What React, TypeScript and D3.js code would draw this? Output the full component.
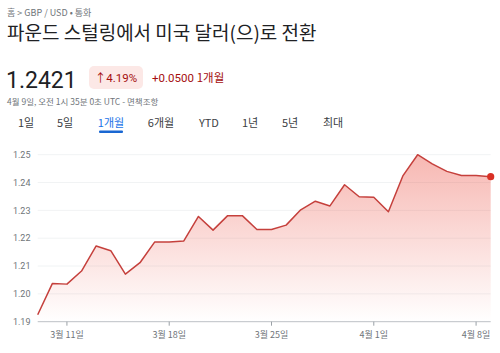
import React from "react";
import * as d3 from "d3";

const dates: string[] = [
  "2024-03-09", "2024-03-10", "2024-03-11", "2024-03-12", "2024-03-13", "2024-03-14",
  "2024-03-15", "2024-03-16", "2024-03-17", "2024-03-18", "2024-03-19", "2024-03-20",
  "2024-03-21", "2024-03-22", "2024-03-23", "2024-03-24", "2024-03-25", "2024-03-26",
  "2024-03-27", "2024-03-28", "2024-03-29", "2024-03-30", "2024-03-31", "2024-04-01",
  "2024-04-02", "2024-04-03", "2024-04-04", "2024-04-05", "2024-04-06", "2024-04-07",
  "2024-04-08", "2024-04-09",
];
const values: number[] = [
  1.1925, 1.2037, 1.2035, 1.2082, 1.2172, 1.2155, 1.2071, 1.2112, 1.2186, 1.2186,
  1.2190, 1.2278, 1.2229, 1.2281, 1.2281, 1.2231, 1.2231, 1.2247, 1.2302, 1.2333,
  1.2316, 1.2392, 1.2349, 1.2347, 1.2295, 1.2425, 1.2500, 1.2467, 1.2440, 1.2425,
  1.2425, 1.2421,
];
const yTicks: number[] = [1.19, 1.2, 1.21, 1.22, 1.23, 1.24, 1.25];
const xTickDates: string[] = ["2024-03-11", "2024-03-18", "2024-03-25", "2024-04-01", "2024-04-08"];
const xTickLabels: string[] = ["3월 11일", "3월 18일", "3월 25일", "4월 1일", "4월 8일"];
const tabs: string[] = ["1일", "5일", "1개월", "6개월", "YTD", "1년", "5년", "최대"];
const tabCenters: number[] = [26, 65, 111, 161, 209, 250, 290, 333];
const activeTab = 2;

const FONT = "Roboto, 'Noto Sans CJK KR', sans-serif";
const KFONT = "'Noto Sans CJK KR', 'Noto Sans', sans-serif";

export default function App() {
  const parse = d3.utcParse("%Y-%m-%d");
  const data = dates.map((d, i) => ({ date: parse(d) as Date, value: values[i] }));
  const x = d3
    .scaleUtc()
    .domain([parse(dates[0]) as Date, parse(dates[dates.length - 1]) as Date])
    .range([37.7, 490.7]);
  const y = d3.scaleLinear().domain([1.19, 1.25]).range([321.7, 154.7]);
  const line = d3
    .line<{ date: Date; value: number }>()
    .x((d) => x(d.date))
    .y((d) => y(d.value));
  const area = d3
    .area<{ date: Date; value: number }>()
    .x((d) => x(d.date))
    .y0(y(1.19))
    .y1((d) => y(d.value));
  const last = data[data.length - 1];

  return (
    <svg
      width={500}
      height={353}
      style={{ position: "absolute", left: 0, top: 0, background: "#fff" }}
    >
      <defs>
        <linearGradient id="areaGrad" x1="0" x2="0" y1={y(1.25)} y2={y(1.19)} gradientUnits="userSpaceOnUse">
          <stop offset="0%" stopColor="#ea4335" stopOpacity={0.38} />
          <stop offset="100%" stopColor="#ea4335" stopOpacity={0.0} />
        </linearGradient>
      </defs>

      {/* header */}
      <text x={7} y={16} fontFamily={KFONT} fontSize={9} fill="#70757a">
        홈 &gt; GBP / USD • 통화
      </text>
      <text x={7} y={40} fontFamily={KFONT} fontSize={19} fill="#202124">
        파운드 스털링에서 미국 달러(으)로 전환
      </text>
      <text x={6} y={88} fontFamily={FONT} fontSize={23} fill="#202124">
        1.2421
      </text>
      <rect x={89} y={66} width={54} height={23} rx={5} fill="#fce8e6" />
      <text x={116} y={82} fontFamily={FONT} fontSize={11.5} fill="#a50e0e" textAnchor="middle">
        ↑4.19%
      </text>
      <text x={152} y={82} fontFamily={FONT} fontSize={11.5} fill="#a50e0e">
        +0.0500 <tspan fontFamily={KFONT}>1개월</tspan>
      </text>
      <text x={7} y={105} fontFamily={KFONT} fontSize={8.5} fill="#70757a">
        4월 9일, 오전 1시 35분 0초 UTC - 면책조항
      </text>

      {/* tabs */}
      {tabs.map((t, i) => (
        <text
          key={t}
          x={tabCenters[i]}
          y={127}
          textAnchor="middle"
          fontFamily={KFONT}
          fontSize={11}
          fill={i === activeTab ? "#1a73e8" : "#3c4043"}
        >
          {t}
        </text>
      ))}
      <rect x={99} y={130.5} width={24} height={2.5} rx={1} fill="#1967d2" />

      {/* gridlines */}
      {yTicks.slice(1).map((t) => (
        <line key={t} x1={37.7} x2={490.7} y1={y(t)} y2={y(t)} stroke="#f1f3f4" strokeWidth={1} />
      ))}

      {/* area + line */}
      <path d={area(data) || ""} fill="url(#areaGrad)" />
      <path d={line(data) || ""} fill="none" stroke="#c5403c" strokeWidth={1.5} strokeLinejoin="round" />
      <circle cx={x(last.date)} cy={y(last.value)} r={3.6} fill="#d93025" />

      {/* x axis */}
      <line x1={37.7} x2={490.7} y1={y(1.19)} y2={y(1.19)} stroke="#bdc1c6" strokeWidth={1} />
      {xTickDates.map((d, i) => {
        const xx = x(parse(d) as Date);
        return (
          <g key={d}>
            <line x1={xx} x2={xx} y1={y(1.19)} y2={y(1.19) + 4} stroke="#9aa0a6" strokeWidth={1} />
            <text x={xx} y={338} textAnchor="middle" fontFamily={KFONT} fontSize={9} fill="#70757a">
              {xTickLabels[i]}
            </text>
          </g>
        );
      })}

      {/* y labels */}
      {yTicks.map((t) => (
        <text key={t} x={30.5} y={y(t) + 3.2} textAnchor="end" fontFamily={FONT} fontSize={9} fill="#70757a">
          {t.toFixed(2)}
        </text>
      ))}
    </svg>
  );
}
